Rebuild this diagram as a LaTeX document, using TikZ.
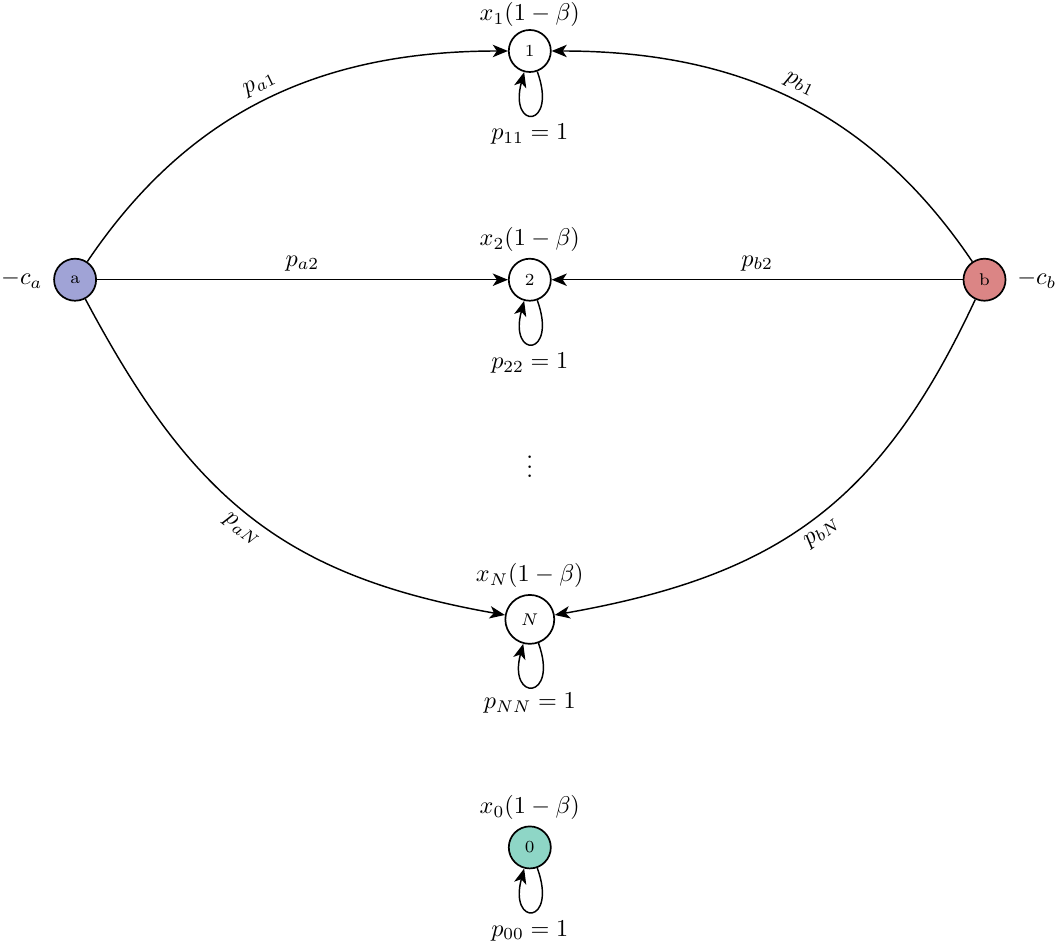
\documentclass[tikz,border=0pt]{standalone}
\usepackage{tikz}
\usetikzlibrary{arrows.meta,positioning}
\definecolor{stateA}{HTML}{A0A3D6}
\definecolor{stateB}{HTML}{DB8585}
\definecolor{stateZero}{HTML}{8ED6C6}

\begin{document}
\begin{tikzpicture}[
  state/.style={draw, circle, line width=0.7pt, minimum size=0.61cm,
             inner sep=0pt, font=\scriptsize},
  arr/.style={-{Stealth[length=2.2mm, width=1.8mm, inset=0.6mm]}, line width=0.6pt},
  selfloop/.style={arr, out=-70, in=-105, looseness=1, min distance=0.88cm},
]
\useasboundingbox (-7.69,4.06) rectangle (7.71,-9.64);

% Source states
\node[state, fill=stateA] (sa) at (-6.6, 0) {a};
\node[state, fill=stateB] (sb) at (6.6, 0) {b};
\node[left=1pt of sa] (ca) {$-c_a$};
\node[right=1pt of sb] (cb) {$-c_b$};

% Middle column
\node[state] (s1) at (0, 3.32) {$1$};
\node[state] (s2) at (0, 0) {$2$};
\node (dots) at (0, -2.61) {$\vdots$};
\node[state, minimum size=0.71cm] (sN) at (0, -4.93) {$N$};
\node[state, fill=stateZero] (s0) at (0, -8.24) {$0$};

% Values and self loops
\node[above=-2.5pt of s1] (v1) {$x_1(1-\beta)$};
\node[above=-1pt of s2] (v2) {$x_2(1-\beta)$};
\node[above=-1pt of sN] (vN) {$x_N(1-\beta)$};
\node[above=-1pt of s0] (v0) {$x_0(1-\beta)$};
\node[below=0.62cm of s1] (l1) {$p_{11}=1$};
\node[below=0.62cm of s2] (l2) {$p_{22}=1$};
\node[below=0.58cm of sN] (lN) {$p_{NN}=1$};
\node[below=0.62cm of s0] (l0) {$p_{00}=1$};
\draw[selfloop] (s1) to (s1);
\draw[selfloop] (s2) to (s2);
\draw[selfloop] (sN) to (sN);
\draw[selfloop] (s0) to (s0);

% Arrows
\draw[arr] (sa) to[out=56, in=180] node[above, sloped, pos=0.5] {$p_{a1}$} (s1);
\draw[arr] (sa) -- node[above] {$p_{a2}$} (s2);
\draw[arr] (sa) to[out=-62, in=170, looseness=1.1] node[below, sloped, pos=0.5] {$p_{aN}$} (sN);
\draw[arr] (sb) to[out=124, in=0] node[above, sloped, pos=0.5] {$p_{b1}$} (s1);
\draw[arr] (sb) -- node[above] {$p_{b2}$} (s2);
\draw[arr] (sb) to[out=-115, in=10, looseness=1.1] node[below, sloped, pos=0.5] {$p_{bN}$} (sN);

\end{tikzpicture}
\end{document}
